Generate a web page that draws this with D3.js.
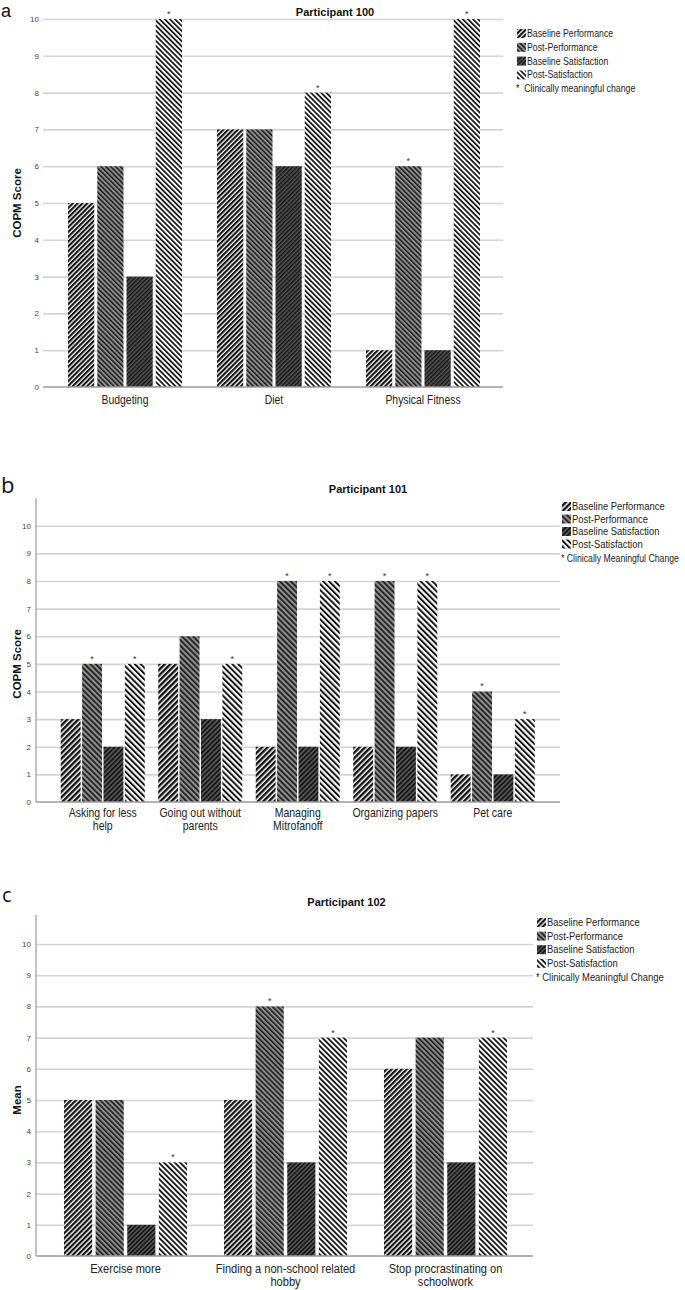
<!DOCTYPE html>
<html><head><meta charset="utf-8">
<script src="https://cdn.jsdelivr.net/npm/d3@7"></script>
<style>
body{margin:0;background:#fff;}
svg{display:block;}
</style></head>
<body>
<svg id="chart" width="685" height="1290"></svg>
<script>
// ---------- DATA ----------
const seriesNames = ["Baseline Performance","Post-Performance","Baseline Satisfaction","Post-Satisfaction"];
const yTickValues = [0,1,2,3,4,5,6,7,8,9,10];

const titleA = "Participant 100";
const catsA = [["Budgeting"],["Diet"],["Physical Fitness"]];
const valsA = [[5,6,3,10],[7,7,6,8],[1,6,1,10]];
const starsA = [[0,0,0,1],[0,0,0,1],[0,1,0,1]];
const starLabelA = "*  Clinically meaningful change";
const yLabelA = "COPM Score";

const titleB = "Participant 101";
const catsB = [["Asking for less","help"],["Going out without","parents"],["Managing","Mitrofanoff"],["Organizing papers"],["Pet care"]];
const valsB = [[3,5,2,5],[5,6,3,5],[2,8,2,8],[2,8,2,8],[1,4,1,3]];
const starsB = [[0,1,0,1],[0,0,0,1],[0,1,0,1],[0,1,0,1],[0,1,0,1]];
const starLabelB = "* Clinically Meaningful Change";
const yLabelB = "COPM Score";

const titleC = "Participant 102";
const catsC = [["Exercise more"],["Finding a non-school related","hobby"],["Stop procrastinating on","schoolwork"]];
const valsC = [[5,5,1,3],[5,8,3,7],[6,7,3,7]];
const starsC = [[0,0,0,1],[0,1,0,1],[0,0,0,1]];
const starLabelC = "* Clinically Meaningful Change";
const yLabelC = "Mean";

// ---------- DRAW ----------
const svg = d3.select("#chart");
const defs = svg.append("defs");
const SANS = "'Liberation Sans',Arial,sans-serif";
const NARROW_K = 0.82;

// narrow (condensed) text emulated with a horizontal scale on a wrapper group
function ntext(parent, x, y, str, size, anchor, maxW){
  const w = parent.append("g");
  const t = w.append("text").attr("x",0).attr("y",0).attr("text-anchor", anchor)
    .attr("font-family", SANS).attr("font-size", size).attr("fill","#222")
    .style("white-space","pre").text(str);
  const L = t.node().getComputedTextLength();
  let k = NARROW_K;
  if (maxW && L*k > maxW) k = maxW / L;
  w.attr("transform", `translate(${x},${y}) scale(${k},1)`);
  return t;
}

// pattern styles
const patStyles = [
  {bg:"#ffffff", fg:"#111111", angle:45, period:3.4, w:2.1},
  {bg:"#8e8e8e", fg:"#1a1a1a", angle:-45, period:3.4, w:1.5},
  {bg:"#555555", fg:"#111111", angle:45, period:3.0, w:1.4},
  {bg:"#ffffff", fg:"#111111", angle:-45, period:3.6, w:1.7}
];
function makePatterns(prefix, scale){
  patStyles.forEach((s,i)=>{
    const p = defs.append("pattern").attr("id", prefix+i)
      .attr("patternUnits","userSpaceOnUse")
      .attr("width", s.period*scale).attr("height", s.period*scale)
      .attr("patternTransform", `rotate(${s.angle})`);
    p.append("rect").attr("width", s.period*scale).attr("height", s.period*scale).attr("fill", s.bg);
    p.append("rect").attr("x",0).attr("y",0).attr("width", s.w*scale).attr("height", s.period*scale).attr("fill", s.fg);
  });
}
makePatterns("pa", 1.0);
makePatterns("pb", 1.15);
makePatterns("pc", 1.05);

function drawPanel(c){
  const g = svg.append("g");
  const y = d3.scaleLinear().domain([0,10]).range([c.y0, c.y10]);
  const x0 = d3.scaleBand().domain(d3.range(c.cats.length)).range(c.bandRange)
      .paddingInner(c.groupPad).paddingOuter(c.groupPad/2);
  const x1 = d3.scaleBand().domain(d3.range(seriesNames.length)).range([0, x0.bandwidth()])
      .paddingInner(c.barPad).paddingOuter(0);

  // panel letter
  g.append("text").attr("x", c.letterX).attr("y", c.letterY)
    .attr("font-family", c.letterFont).attr("font-size", c.letterSize).attr("fill","#111")
    .text(c.letter);
  // title
  g.append("text").attr("x", c.titleX).attr("y", c.titleY).attr("text-anchor","middle")
    .attr("font-family", SANS).attr("font-weight","bold").attr("font-size", 11).attr("fill","#111")
    .text(c.title);

  // gridlines
  const grid = g.append("g").attr("transform", `translate(${c.axisX},0)`)
    .call(d3.axisLeft(y).tickValues(yTickValues.filter(v=>v>0)).tickSize(-(c.gridRight-c.axisX)).tickFormat(""));
  grid.select(".domain").remove();
  grid.selectAll("line").attr("stroke","#d4d4d4").attr("stroke-width",1.6);

  // y tick labels
  const ax = g.append("g").attr("transform", `translate(${c.axisX},0)`)
    .call(d3.axisLeft(y).tickValues(yTickValues).tickSize(0).tickPadding(c.tickPad));
  ax.select(".domain").remove();
  ax.selectAll("text").attr("font-family", SANS).attr("font-size", 8).attr("fill","#444");

  // vertical axis line
  if (c.axisTop !== null){
    g.append("line").attr("x1", c.axisX).attr("x2", c.axisX).attr("y1", c.axisTop).attr("y2", c.y0)
      .attr("stroke","#9a9a9a").attr("stroke-width",1.2);
  }

  // bars
  const groups = g.selectAll(".grp").data(c.vals).enter().append("g")
    .attr("transform", (d,i)=>`translate(${x0(i)},0)`);
  groups.selectAll("rect").data(d=>d).enter().append("rect")
    .attr("x", (d,j)=>x1(j)).attr("width", x1.bandwidth())
    .attr("y", d=>y(d)).attr("height", d=>y(0)-y(d))
    .attr("fill", (d,j)=>`url(#${c.pat}${j})`);
  // stars
  groups.each(function(d,i){
    d3.select(this).selectAll(".star").data(d.map((v,j)=>({v, j, s:c.stars[i][j]})).filter(e=>e.s))
      .enter().append("text")
      .attr("x", e=>x1(e.j)+x1.bandwidth()/2).attr("y", e=>y(e.v)-2)
      .attr("text-anchor","middle").attr("font-family", SANS).attr("font-size", 9).attr("fill","#333")
      .text("*");
  });

  // baseline
  g.append("line").attr("x1", c.axisX).attr("x2", c.gridRight).attr("y1", y(0)).attr("y2", y(0))
    .attr("stroke","#9a9a9a").attr("stroke-width",1.6);

  // category labels
  c.cats.forEach((lines,i)=>{
    lines.forEach((ln,k)=>{
      ntext(g, x0(i)+x0.bandwidth()/2, c.labelY + k*c.labelStep, ln, c.catFont, "middle");
    });
  });

  // y label
  g.append("text").attr("transform", `translate(${c.yLabelX},${(y(0)+y(10))/2}) rotate(-90)`)
    .attr("text-anchor","middle").attr("font-family", SANS).attr("font-weight","bold")
    .attr("font-size", 11.5).attr("fill","#111").text(c.yLabel);

  // legend
  const lg = g.append("g").attr("transform", `translate(${c.legendX},${c.legendY})`);
  seriesNames.forEach((s,j)=>{
    const row = lg.append("g").attr("transform", `translate(0,${j*c.legendStep})`);
    row.append("rect").attr("x",0).attr("y",-8).attr("width",9).attr("height",9)
      .attr("fill", `url(#${c.pat}${j})`);
    ntext(row, 10, 0, s, c.legendFont, "start");
  });
  ntext(lg, -1, 4*c.legendStep + c.starExtra, c.starLabel, c.legendFont, "start", 680 - c.legendX);
}

drawPanel({
  letter:"a", letterX:1, letterY:17, letterSize:18, letterFont:SANS, title:titleA, titleX:335, titleY:16,
  y0:387, y10:19, axisX:43, gridRight:503, axisTop:null, tickPad:4,
  bandRange:[50.5,497.5], groupPad:0.235, barPad:0.1026,
  cats:catsA, vals:valsA, stars:starsA, pat:"pa",
  labelY:404, labelStep:13, catFont:12.7,
  yLabel:yLabelA, yLabelX:21,
  legendX:517, legendY:37, legendStep:13.8, legendFont:10.7, starExtra:0, starLabel:starLabelA
});

drawPanel({
  letter:"b", letterX:1, letterY:493, letterSize:22, letterFont:"'Open Sans',sans-serif", title:titleB, titleX:368, titleY:493,
  y0:802, y10:525.7, axisX:36, gridRight:560, axisTop:498, tickPad:5,
  bandRange:[54,541.5], groupPad:0.138, barPad:0.07,
  cats:catsB, vals:valsB, stars:starsB, pat:"pb",
  labelY:817, labelStep:13, catFont:12.8,
  yLabel:yLabelB, yLabelX:21,
  legendX:562, legendY:510, legendStep:12.5, legendFont:11.5, starExtra:1.5, starLabel:starLabelB
});

drawPanel({
  letter:"c", letterX:2, letterY:902, letterSize:20, letterFont:"'Open Sans',sans-serif", title:titleC, titleX:346.5, titleY:906,
  y0:1256, y10:944, axisX:36, gridRight:533, axisTop:915, tickPad:5,
  bandRange:[45.5,525.5], groupPad:0.231, barPad:0.11,
  cats:catsC, vals:valsC, stars:starsC, pat:"pc",
  labelY:1273, labelStep:13, catFont:13.5,
  yLabel:yLabelC, yLabelX:21,
  legendX:537, legendY:926, legendStep:13.6, legendFont:11.5, starExtra:0.5, starLabel:starLabelC
});
</script>
</body></html>
